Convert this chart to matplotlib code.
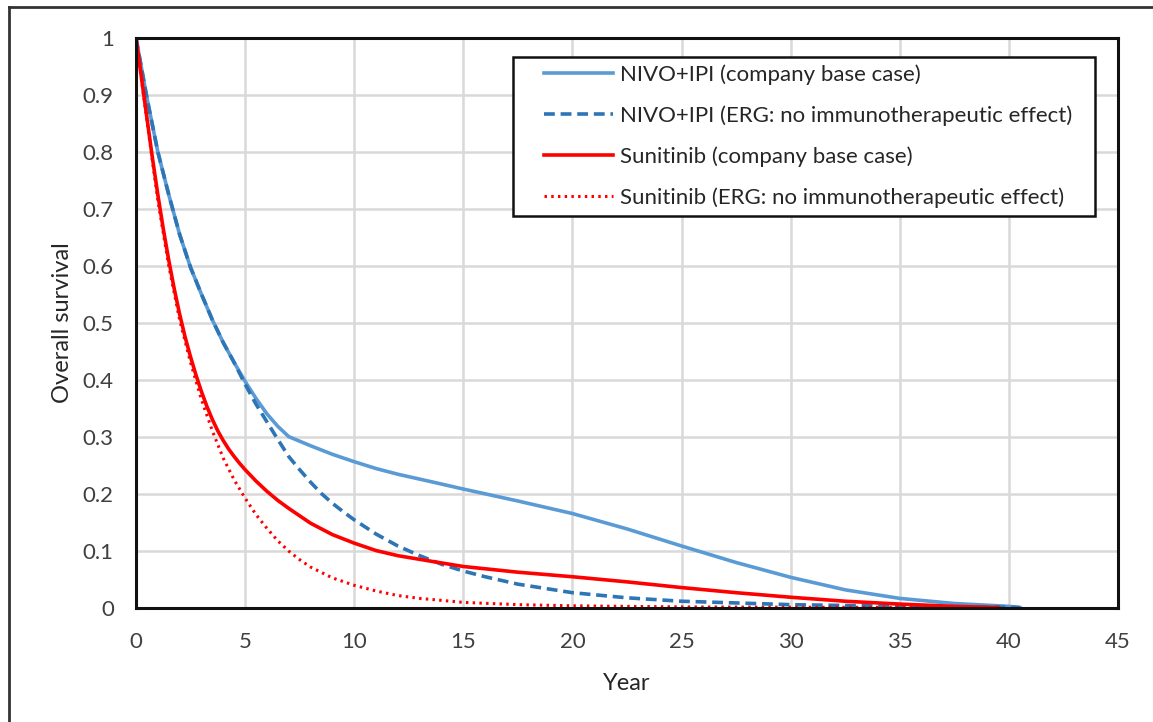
import matplotlib
matplotlib.use("Agg")
import matplotlib.pyplot as plt
from matplotlib.lines import Line2D
from matplotlib.patches import Rectangle

plt.rcParams['font.family'] = ['Lato', 'DejaVu Sans']

# Overall survival estimates by year
nivo_base_years = [0, 0.5, 1, 1.5, 2, 2.5, 3, 3.5, 4, 4.5, 5, 5.5, 6, 6.5, 7, 8, 9, 10,
                   11, 12, 13.4, 15, 17.5, 20, 22.5, 25, 27.5, 30, 32.5, 35, 37.5, 40, 40.5]
nivo_base_os = [1.0, 0.895, 0.80, 0.725, 0.655, 0.597, 0.55, 0.505, 0.465, 0.43, 0.397,
                0.367, 0.34, 0.318, 0.300, 0.284, 0.269, 0.256, 0.244, 0.234, 0.222,
                0.208, 0.187, 0.165, 0.138, 0.108, 0.079, 0.053, 0.031, 0.016, 0.007,
                0.002, 0.0]

nivo_erg_years = [0, 0.5, 1, 1.5, 2, 2.5, 3, 3.5, 4, 4.5, 5, 5.5, 6, 6.5, 7, 7.5, 8, 8.5,
                  9, 9.5, 10, 11, 12, 13, 14, 15, 16, 17.5, 20, 22.5, 25, 27.5, 30, 35,
                  40, 40.5]
nivo_erg_os = [1.0, 0.895, 0.80, 0.725, 0.655, 0.597, 0.55, 0.505, 0.465, 0.43, 0.392,
               0.357, 0.326, 0.295, 0.265, 0.242, 0.22, 0.2, 0.183, 0.168, 0.154, 0.129,
               0.108, 0.091, 0.076, 0.064, 0.054, 0.041, 0.026, 0.017, 0.011, 0.008,
               0.005, 0.002, 0.0005, 0.0]

suni_base_years = [0, 0.25, 0.5, 0.75, 1, 1.25, 1.5, 1.75, 2, 2.25, 2.5, 2.75, 3, 3.25,
                   3.5, 3.75, 4, 4.25, 4.5, 4.75, 5, 5.5, 6, 6.5, 7, 8, 9, 10, 11, 12,
                   13.4, 15, 17.5, 20, 22.5, 25, 27.5, 30, 32.5, 35, 37.5, 39.5]
suni_base_os = [1.0, 0.93, 0.86, 0.79, 0.725, 0.665, 0.61, 0.56, 0.515, 0.475, 0.44,
                0.408, 0.379, 0.353, 0.330, 0.310, 0.293, 0.278, 0.265, 0.253, 0.242,
                0.222, 0.204, 0.188, 0.174, 0.148, 0.128, 0.113, 0.1, 0.091, 0.082,
                0.072, 0.062, 0.054, 0.045, 0.035, 0.026, 0.018, 0.011, 0.006, 0.002,
                0.0]

suni_erg_years = [0, 0.5, 1, 1.5, 2, 2.5, 3, 3.5, 4, 4.5, 5, 5.5, 6, 6.5, 7, 7.5, 8, 9,
                  10, 11, 12, 13, 15, 17.5, 20, 25, 30, 39.5]
suni_erg_os = [1.0, 0.855, 0.715, 0.60, 0.505, 0.43, 0.365, 0.31, 0.262, 0.224, 0.192,
               0.163, 0.139, 0.117, 0.099, 0.084, 0.071, 0.052, 0.039, 0.029, 0.021,
               0.016, 0.009, 0.005, 0.003, 0.001, 0.0005, 0.0]

labels = [
    "NIVO+IPI (company base case)",
    "NIVO+IPI (ERG: no immunotherapeutic effect)",
    "Sunitinib (company base case)",
    "Sunitinib (ERG: no immunotherapeutic effect)",
]

x_ticks = list(range(0, 46, 5))
y_ticks = [0, 0.1, 0.2, 0.3, 0.4, 0.5, 0.6, 0.7, 0.8, 0.9, 1]
y_tick_labels = ["0", "0.1", "0.2", "0.3", "0.4", "0.5", "0.6", "0.7", "0.8", "0.9", "1"]

W, H = 1153, 722
fig = plt.figure(figsize=(W / 100, H / 100), dpi=100)
ax_l, ax_r, ax_t, ax_b = 136, 1118, 38, 607.5
ax = fig.add_axes([ax_l / W, 1 - ax_b / H, (ax_r - ax_l) / W, (ax_b - ax_t) / H])

ax.plot(nivo_base_years, nivo_base_os, color="#5B9BD5", lw=2.6, label=labels[0])
ax.plot(nivo_erg_years, nivo_erg_os, color="#2E75B6", lw=2.6, ls=(0, (3, 1.6)),
        label=labels[1])
ax.plot(suni_base_years, suni_base_os, color="#FF0000", lw=2.6, label=labels[2])
ax.plot(suni_erg_years, suni_erg_os, color="#FF0000", lw=2.2, ls=(0, (0.8, 1.4)),
        label=labels[3])

ax.set_xlim(0, 45)
ax.set_ylim(0, 1)
ax.set_xticks(x_ticks)
ax.set_xticklabels([str(t) for t in x_ticks])
ax.set_yticks(y_ticks)
ax.set_yticklabels(y_tick_labels)
ax.tick_params(length=0, labelsize=16, colors="#404040")
ax.tick_params(axis="x", pad=18)
ax.tick_params(axis="y", pad=16)
ax.grid(True, color="#D9D9D9", lw=1.8)
ax.set_axisbelow(True)
for s in ax.spines.values():
    s.set_color("#111111")
    s.set_linewidth(2.2)

ax.set_xlabel("Year", fontsize=17, color="#262626", labelpad=15)
ax.set_ylabel("Overall survival", fontsize=17, color="#262626", labelpad=7)


def ax_x(px):
    return (px - ax_l) / (ax_r - ax_l)


def ax_y(py):
    return (ax_b - py) / (ax_b - ax_t)


# Legend frame drawn as its own box, entries placed inside it
ax.add_patch(Rectangle((ax_x(513), ax_y(216)), ax_x(1095) - ax_x(513),
                       ax_y(57) - ax_y(216), transform=ax.transAxes, fill=True,
                       facecolor="white", edgecolor="#111111", lw=1.8, zorder=5,
                       clip_on=False))
leg = ax.legend(loc="upper left", bbox_to_anchor=(ax_x(544), ax_y(64)), fontsize=16,
                handlelength=3.1, handletextpad=0.3, labelspacing=0.92,
                borderpad=0, borderaxespad=0, frameon=False)
leg.set_zorder(6)
for t in leg.get_texts():
    t.set_color("#262626")

# Outer frame of the figure
fig.add_artist(Line2D([9 / W, 9 / W], [0, 1 - 7 / H], transform=fig.transFigure,
                      color="#333333", lw=2))
fig.add_artist(Line2D([9 / W, 1], [1 - 7 / H, 1 - 7 / H], transform=fig.transFigure,
                      color="#333333", lw=2))

fig.savefig("out.png", dpi=100)
